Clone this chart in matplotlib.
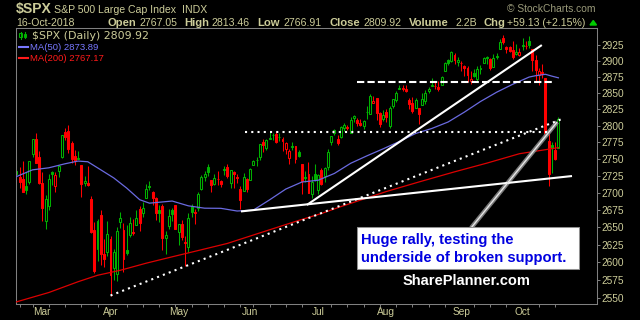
import matplotlib
matplotlib.use("Agg")
import matplotlib.pyplot as plt
import numpy as np
import pandas as pd
from matplotlib.patches import Rectangle, Polygon
from matplotlib.lines import Line2D

plt.rcParams['font.family'] = ['Liberation Sans', 'DejaVu Sans']

# ---------------- data ----------------
holidays = ["2018-02-19", "2018-03-30", "2018-05-28", "2018-07-04", "2018-09-03"]
dates = [d for d in pd.bdate_range("2018-02-15", "2018-10-16")
         if d.strftime("%Y-%m-%d") not in holidays]

opens = [2713.46, 2727.14, 2722.99, 2720.53, 2710.42, 2715.80, 2757.37, 2780.45, 2753.78,
         2715.22, 2658.89, 2681.06, 2730.18, 2710.18, 2732.75, 2752.91, 2790.54, 2792.79, 2774.06,
         2754.27, 2750.57, 2741.38, 2715.05, 2714.99, 2691.36, 2646.71, 2619.35, 2667.57, 2611.30, 2614.41,
         2633.45, 2592.17, 2584.04, 2657.36, 2645.82, 2617.18, 2638.41, 2643.08, 2653.83, 2676.90,
         2670.10, 2692.74, 2710.11, 2701.16, 2692.56, 2675.40, 2680.80, 2634.92, 2651.65, 2675.47, 2682.51,
         2642.96, 2654.24, 2628.08, 2621.45, 2680.34, 2670.26, 2678.12, 2705.02, 2722.70, 2738.47,
         2718.59, 2712.62, 2719.71, 2717.35, 2735.39, 2738.34, 2713.98, 2730.94, 2723.60, 2705.11,
         2702.43, 2720.98,
         2718.70, 2741.67, 2748.46, 2753.25, 2774.84, 2765.84, 2780.18, 2785.60, 2787.94, 2783.21,
         2777.78, 2765.79, 2752.01, 2769.73, 2769.28, 2760.79, 2742.94, 2722.12, 2728.45, 2698.69, 2727.13,
         2704.95, 2733.27, 2724.19, 2737.68, 2775.62, 2788.56, 2779.82, 2783.14, 2796.93, 2797.36,
         2789.34, 2811.35, 2809.37, 2804.55, 2799.17, 2820.68, 2817.73, 2835.49, 2842.35, 2819.00, 2809.73,
         2821.17, 2800.48, 2829.62, 2840.29, 2855.92, 2856.79, 2857.19, 2838.90, 2835.46, 2827.88,
         2827.95, 2831.44, 2838.32, 2853.93, 2861.51, 2860.99, 2860.29, 2862.35, 2884.69, 2901.45,
         2900.62, 2908.94, 2898.37,
         2896.96, 2891.59, 2888.64, 2868.26, 2881.39, 2871.57, 2888.29, 2896.85, 2906.38, 2903.83,
         2890.74, 2906.60, 2919.73, 2936.76, 2921.83, 2921.75, 2916.98, 2911.65, 2910.03,
         2926.29, 2923.80, 2931.69, 2919.35, 2902.54, 2877.53, 2882.51, 2873.90, 2776.87, 2770.54,
         2763.83, 2767.05]
highs = [2731.51, 2754.42, 2737.60, 2747.75, 2731.26, 2747.76, 2780.64, 2789.15, 2761.52,
         2730.89, 2696.25, 2728.09, 2732.08, 2730.60, 2740.45, 2786.57, 2796.98, 2801.90, 2777.11,
         2763.03, 2761.85, 2741.38, 2724.22, 2739.14, 2695.68, 2657.67, 2661.36, 2674.78, 2632.65, 2659.07,
         2638.30, 2619.14, 2649.86, 2672.08, 2656.88, 2653.55, 2665.45, 2661.43, 2674.72, 2680.26,
         2686.49, 2713.34, 2717.49, 2702.84, 2693.94, 2682.86, 2683.55, 2645.30, 2676.48, 2677.35, 2682.87,
         2655.27, 2660.87, 2637.14, 2670.93, 2683.35, 2676.34, 2701.27, 2726.11, 2732.86, 2742.10,
         2718.59, 2727.76, 2731.96, 2719.50, 2739.19, 2742.24, 2733.33, 2731.97, 2727.36, 2710.67,
         2729.34, 2722.50,
         2736.93, 2749.16, 2752.61, 2772.39, 2779.90, 2779.39, 2790.21, 2789.80, 2791.47, 2789.06,
         2782.81, 2774.99, 2765.05, 2774.86, 2769.28, 2764.17, 2742.94, 2732.91, 2746.09, 2724.34, 2743.26,
         2727.26, 2736.58, 2737.83, 2764.41, 2784.65, 2795.58, 2785.91, 2799.22, 2804.53, 2801.19,
         2814.19, 2816.76, 2812.05, 2809.70, 2808.61, 2829.99, 2848.03, 2845.57, 2843.17, 2821.74, 2824.46,
         2825.83, 2829.91, 2840.38, 2853.29, 2863.43, 2862.44, 2862.48, 2842.20, 2843.40, 2843.11,
         2827.95, 2850.49, 2855.63, 2859.76, 2873.23, 2867.54, 2868.78, 2876.16, 2898.25, 2903.77,
         2916.50, 2912.46, 2906.32,
         2900.18, 2894.21, 2892.05, 2883.81, 2886.93, 2892.52, 2894.65, 2906.76, 2908.30, 2904.65,
         2911.17, 2912.36, 2934.80, 2940.91, 2923.79, 2923.95, 2931.15, 2927.22, 2920.53,
         2937.06, 2931.42, 2939.86, 2919.78, 2909.64, 2889.45, 2894.83, 2874.02, 2795.14, 2775.77,
         2775.99, 2813.46]
lows = [2689.82, 2725.11, 2706.76, 2701.29, 2697.77, 2713.74, 2753.78, 2744.22, 2713.54,
        2659.65, 2647.32, 2675.75, 2711.26, 2701.74, 2722.65, 2751.54, 2779.26, 2758.68, 2744.38,
        2741.47, 2749.97, 2694.59, 2710.05, 2709.79, 2641.59, 2585.89, 2601.81, 2596.12, 2593.06, 2609.72,
        2553.80, 2575.49, 2573.61, 2649.58, 2586.27, 2610.79, 2635.78, 2639.25, 2653.83, 2645.05,
        2665.16, 2692.05, 2703.63, 2681.90, 2660.61, 2657.99, 2617.32, 2612.67, 2647.16, 2659.01, 2648.04,
        2625.41, 2631.70, 2594.62, 2615.32, 2664.70, 2655.20, 2674.14, 2704.54, 2717.45, 2725.47,
        2701.91, 2712.17, 2711.36, 2709.18, 2725.70, 2721.88, 2707.38, 2707.38, 2714.99, 2676.81,
        2702.43, 2700.68,
        2718.70, 2740.54, 2739.51, 2748.46, 2760.16, 2763.59, 2780.17, 2778.78, 2774.65, 2776.52,
        2761.73, 2757.12, 2743.19, 2763.91, 2744.39, 2752.68, 2698.67, 2715.60, 2699.38, 2691.99, 2718.03,
        2698.95, 2711.16, 2716.02, 2733.52, 2770.73, 2786.24, 2770.77, 2781.53, 2791.69, 2793.39,
        2789.24, 2805.89, 2799.77, 2800.01, 2795.14, 2811.12, 2817.73, 2835.26, 2808.34, 2798.11, 2808.06,
        2805.85, 2796.34, 2827.37, 2835.98, 2855.92, 2853.09, 2851.98, 2825.81, 2819.88, 2826.58,
        2802.49, 2831.44, 2833.73, 2850.62, 2861.32, 2856.05, 2854.03, 2862.35, 2884.69, 2893.50,
        2898.40, 2895.22, 2891.73,
        2885.13, 2876.92, 2867.29, 2864.12, 2875.94, 2866.78, 2879.20, 2896.39, 2895.77, 2886.16,
        2890.43, 2903.82, 2919.73, 2927.11, 2912.63, 2913.70, 2903.28, 2909.27, 2907.50,
        2917.91, 2919.37, 2921.36, 2883.92, 2869.29, 2862.08, 2874.27, 2784.86, 2710.51, 2729.44,
        2749.03, 2766.91]
closes = [2731.20, 2732.22, 2716.26, 2701.33, 2703.96, 2747.30, 2779.60, 2744.28, 2713.83,
          2677.67, 2691.25, 2720.94, 2728.12, 2726.80, 2738.97, 2786.57, 2783.02, 2765.31, 2749.48,
          2747.33, 2752.01, 2712.92, 2716.94, 2711.93, 2643.69, 2588.26, 2658.55, 2612.62, 2605.00, 2640.87,
          2581.88, 2614.45, 2644.69, 2662.84, 2604.47, 2613.16, 2656.87, 2642.19, 2663.99, 2656.30,
          2677.84, 2706.39, 2708.64, 2693.13, 2670.14, 2670.29, 2634.56, 2639.40, 2666.94, 2669.91, 2648.05,
          2654.80, 2635.67, 2629.73, 2663.42, 2672.63, 2671.92, 2697.79, 2723.07, 2727.72, 2730.13,
          2711.45, 2722.46, 2720.13, 2712.97, 2733.01, 2724.44, 2733.29, 2727.76, 2721.33, 2689.86,
          2724.01, 2705.27,
          2734.62, 2746.87, 2748.80, 2772.35, 2770.37, 2779.03, 2782.00, 2786.85, 2775.63, 2782.49,
          2779.66, 2773.75, 2762.59, 2767.32, 2749.76, 2754.88, 2717.07, 2723.06, 2699.63, 2716.31, 2718.37,
          2726.71, 2713.22, 2736.61, 2759.82, 2784.17, 2793.84, 2774.02, 2798.29, 2801.31, 2798.43,
          2809.55, 2815.62, 2804.49, 2801.83, 2806.98, 2820.40, 2846.07, 2837.44, 2818.82, 2802.60, 2816.29,
          2813.36, 2827.22, 2840.35, 2850.40, 2858.45, 2857.70, 2853.58, 2833.28, 2821.93, 2839.96,
          2818.37, 2840.69, 2850.13, 2857.05, 2862.96, 2861.82, 2856.98, 2874.69, 2896.74, 2897.52,
          2914.04, 2901.13, 2901.52,
          2896.72, 2888.60, 2878.05, 2871.68, 2877.13, 2887.89, 2888.92, 2904.18, 2904.98, 2888.80,
          2904.31, 2907.95, 2930.75, 2929.67, 2919.37, 2915.56, 2905.97, 2914.00, 2913.98,
          2924.59, 2923.43, 2925.51, 2901.61, 2885.57, 2884.43, 2880.34, 2785.68, 2728.37, 2767.13,
          2750.79, 2809.92]

ma50_dates = ["2018-02-16", "2018-02-26", "2018-03-05", "2018-03-12", "2018-03-16", "2018-03-21",
              "2018-03-27", "2018-04-03", "2018-04-09", "2018-04-13", "2018-04-18", "2018-04-27",
              "2018-05-04", "2018-05-11", "2018-05-18", "2018-05-25", "2018-06-04", "2018-06-11",
              "2018-06-18", "2018-06-25", "2018-07-02", "2018-07-10", "2018-07-17", "2018-07-24",
              "2018-07-31", "2018-08-07", "2018-08-14", "2018-08-21", "2018-08-28", "2018-09-05",
              "2018-09-12", "2018-09-19", "2018-09-26", "2018-10-03", "2018-10-05", "2018-10-10",
              "2018-10-12", "2018-10-16"]
ma50_values = [2724, 2734, 2737, 2743, 2747, 2746, 2734, 2722, 2707, 2690, 2685, 2688.1,
               2681.1, 2677.7, 2677.5, 2673.6, 2674.9, 2689.8, 2705.6, 2716.0, 2718.6, 2728.7,
               2743.7, 2754.8, 2765.3, 2776.3, 2788.4, 2796.0, 2805.8, 2820.8, 2837.2, 2851.6,
               2864.0, 2875.1, 2877.2, 2879.4, 2876.5, 2873.89]

ma200_dates = ["2018-02-16", "2018-03-05", "2018-03-16", "2018-03-26", "2018-04-05", "2018-04-17",
               "2018-04-27", "2018-05-10", "2018-05-22", "2018-06-04", "2018-06-14", "2018-06-22",
               "2018-07-03", "2018-07-12", "2018-07-23", "2018-08-01", "2018-08-15", "2018-08-30",
               "2018-09-14", "2018-09-28", "2018-10-10", "2018-10-16"]
ma200_values = [2545, 2558, 2573, 2582, 2589, 2599, 2608, 2618, 2627, 2639, 2651, 2660,
                2670, 2680, 2691, 2702, 2716, 2731, 2744, 2758, 2764, 2767.17]

ytick_values = [2550, 2575, 2600, 2625, 2650, 2675, 2700, 2725, 2750, 2775, 2800, 2825,
                2850, 2875, 2900, 2925]
month_labels = ["Mar", "Apr", "May", "Jun", "Jul", "Aug", "Sep", "Oct"]

# trend-line annotations: (trading-day position, price)
support_dotted = [(30.0, 2553.8), (169.1, 2810.4)]
level_dotted = [(71.4, 2790.5), (165.1, 2790.5)]
level_dashed = [(105.9, 2867.5), (166.2, 2867.5)]
base_line = [(70.2, 2673.0), (172.2, 2724.8)]
rise_line = [(90.5, 2682.4), (162.9, 2925.4)]
pointer_line = [(141.1, 2649.2), (167.6, 2805.8)]

# ---------------- styling ----------------
W, H = 640, 320
TAN = '#cccc99'
GREEN = '#00b000'
RED = '#ff0000'
GRAY = '#808080'

fig = plt.figure(figsize=(6.4, 3.2), dpi=100, facecolor='black')
ax = fig.add_axes([16 / W, 16 / H, 581 / W, 276 / H])
ax.set_facecolor('black')

o, h, l, c = map(np.array, (opens, highs, lows, closes))
x = np.arange(len(c))
prev = np.r_[c[0], c[:-1]]
cols = np.where(c >= prev, GREEN, RED)
faces = np.where(c >= o, 'black', cols)
ax.vlines(x, l, h, colors=cols, lw=0.75, zorder=2)
ax.bar(x, np.maximum(np.abs(c - o), 0.5), bottom=np.minimum(o, c), width=0.6,
       color=faces, edgecolor=cols, linewidth=0.75, zorder=2.5)

pos = {d.strftime("%Y-%m-%d"): i for i, d in enumerate(dates)}
ax.plot([pos[d] for d in ma50_dates], ma50_values, color='#6a6ae0', lw=0.9, zorder=3)
ax.plot([pos[d] for d in ma200_dates], ma200_values, color='#dd0000', lw=0.9, zorder=3)

def seg(pts, **kw):
    ax.plot([p[0] for p in pts], [p[1] for p in pts], **kw)

seg(pointer_line, color='#7a7a7a', lw=3.2, zorder=4, solid_capstyle='butt')
seg(pointer_line, color='#e6e6e6', lw=1.0, zorder=4.1, solid_capstyle='butt')
seg(support_dotted, color='white', lw=1.5, ls=(0, (1, 2)), zorder=4, dash_capstyle='butt')
seg(level_dotted, color='white', lw=1.5, ls=(0, (1, 2)), zorder=4, dash_capstyle='butt')
seg(level_dashed, color='white', lw=1.5, ls=(0, (3.5, 1.5)), zorder=4, dash_capstyle='butt')
seg(base_line, color='white', lw=1.5, zorder=4, solid_capstyle='butt')
seg(rise_line, color='white', lw=1.5, zorder=4, solid_capstyle='butt')

ax.set_yscale('log')
ax.set_xlim(0.88, 179.9)
ax.set_ylim(2542.1, 2952.6)
ax.set_yticks(ytick_values, labels=[str(v) for v in ytick_values])
ax.yaxis.set_minor_locator(matplotlib.ticker.NullLocator())
ax.yaxis.tick_right()
ax.tick_params(axis='y', which='major', direction='out', length=2.5, width=0.7,
               color=GRAY, labelcolor=TAN, labelsize=7.3, pad=1)

month_pos = []
week_pos = []
for i, d in enumerate(dates):
    if i > 0 and d.month != dates[i - 1].month:
        month_pos.append(i)
    if i > 0 and d.weekday() < dates[i - 1].weekday():
        week_pos.append(i)
ax.set_xticks(month_pos, labels=month_labels)
ax.set_xticks(week_pos, minor=True)
ax.tick_params(axis='x', which='major', length=0, pad=2, labelcolor=TAN, labelsize=7.3)
ax.tick_params(axis='x', which='minor', length=2, width=0.7, color=GRAY, direction='out')

for s in ax.spines.values():
    s.set_color(GRAY)
    s.set_linewidth(0.75)

# ---------------- text ----------------
def T(xp, yp, s, **kw):
    fig.text(xp / W, 1 - yp / H, s, va='baseline', ha=kw.pop('ha', 'left'), **kw)

T(16, 13.3, "$SPX", fontsize=10.1, fontweight='bold', color=TAN)
T(53.5, 12.7, "S&P 500 Large Cap Index", fontsize=7.6, color=TAN)
T(182, 12.7, "INDX", fontsize=7.6, color=TAN)
T(507, 12.3, "\u00a9 StockCharts.com", fontsize=7.4, color='#9a9a7a')

T(16, 26, "16-Oct-2018", fontsize=7.6, color=TAN)
for lx, lab, vx, val in [(108, "Open", 140, "2767.05"), (184, "High", 212, "2813.46"),
                         (257, "Low", 283, "2766.91"), (329, "Close", 363, "2809.92"),
                         (409, "Volume", 455, "2.2B"), (483, "Chg", 507, "+59.13 (+2.15%)")]:
    T(lx, 26, lab, fontsize=8.1, fontweight='bold', color=TAN)
    T(vx, 26, val, fontsize=7.6, color=TAN)
fig.add_artist(Polygon([(590 / W, 1 - 25 / H), (596.5 / W, 1 - 25 / H), (593.25 / W, 1 - 20.5 / H)],
                       closed=True, transform=fig.transFigure, color='#00cc00'))

# legend
T(31.7, 39.3, "$SPX (Daily) 2809.92", fontsize=7.9, color=TAN, family='DejaVu Sans')
T(30, 50, "MA(50) 2873.89", fontsize=6.8, color='#7878ff')
T(30, 61, "MA(200) 2767.17", fontsize=6.8, color='#ff1a1a')
fig.add_artist(Line2D([19.3 / W, 27.7 / W], [1 - 46.5 / H, 1 - 46.5 / H], transform=fig.transFigure,
                      color='#7878ff', lw=1.5))
fig.add_artist(Line2D([19.3 / W, 27.7 / W], [1 - 57.7 / H, 1 - 57.7 / H], transform=fig.transFigure,
                      color='#ff1a1a', lw=1.5))
for cx, top, bot, btop, bbot in [(20.5, 31.5, 38.5, 33, 37), (25, 32, 38, 34, 36.5)]:
    fig.add_artist(Line2D([cx / W, cx / W], [1 - top / H, 1 - bot / H], transform=fig.transFigure,
                          color=GREEN, lw=0.75))
    fig.add_artist(Rectangle(((cx - 1.3) / W, 1 - bbot / H), 2.6 / W, (bbot - btop) / H,
                             transform=fig.transFigure, fc='black', ec=GREEN, lw=0.75))

# annotation box
fig.add_artist(Rectangle((357.3 / W, 1 - 269 / H), 222 / W, 41.7 / H, transform=fig.transFigure,
                         fc='white', ec='#909090', lw=0.75, zorder=5))
T(360.7, 244, "Huge rally, testing the", fontsize=10.6, fontweight='bold', color='#0000e0', zorder=6)
T(360.7, 261.7, "underside of broken support.", fontsize=10.6, fontweight='bold', color='#0000e0', zorder=6)
T(402.7, 285, "SharePlanner.com", fontsize=10.5, fontweight='bold', color='white')

fig.savefig("out.png", dpi=100, facecolor='black')
